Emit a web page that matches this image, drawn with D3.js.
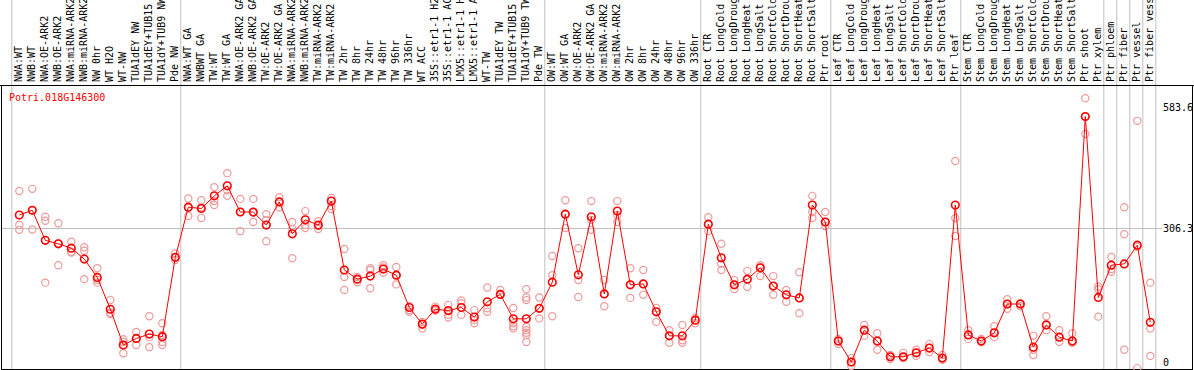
<!DOCTYPE html>
<html>
<head>
<meta charset="utf-8">
<script src="https://cdn.jsdelivr.net/npm/d3@7"></script>
<style>
  body { margin: 0; background: #fff; }
  svg { display: block; }
  text { font-family: "DejaVu Sans Mono", monospace; font-size: 10px; }
</style>
</head>
<body>
<div id="chart"></div>
<script>
const geneId = "Potri.018G146300";

const samples = [
  "NWA:WT", "NWB:WT", "NWA:OE-ARK2", "NWB:OE-ARK2", "NWA:miRNA-ARK2", "NWB:miRNA-ARK2",
  "NW 0hr", "WT H2O", "WT-NW", "TUA1dEY NW", "TUA1dEY+TUB15 NW", "TUA1dY+TUB9 NW", "Pde NW",
  "NWA:WT GA", "NWBWT GA", "TW:WT", "TW:WT GA", "NWA:OE-ARK2 GA", "NWB:OE-ARK2 GA",
  "TW:OE-ARK2", "TW:OE-ARK2 GA", "NWA:miRNA-ARK2", "NWB:miRNA-ARK2", "TW:miRNA-ARK2",
  "TW:miRNA-ARK2", "TW 2hr", "TW 8hr", "TW 24hr", "TW 48hr", "TW 96hr", "TW 336hr", "WT ACC",
  "35S::etr1-1 H2O", "35S::etr1-1 ACC", "LMX5::etr1-1 H2O", "LMX5::etr1-1 ACC", "WT-TW",
  "TUA1dEY TW", "TUA1dEY+TUB15 TW", "TUA1dY+TUB9 TW", "Pde TW",
  "OW:WT", "OW:WT GA", "OW:OE-ARK2", "OW:OE-ARK2 GA", "OW:miRNA-ARK2", "OW:miRNA-ARK2",
  "OW 2hr", "OW 8hr", "OW 24hr", "OW 48hr", "OW 96hr", "OW 336hr",
  "Root CTR", "Root LongCold", "Root LongDrought", "Root LongHeat", "Root LongSalt",
  "Root ShortCold", "Root ShortDrought", "Root ShortHeat", "Root ShortSalt", "Ptr root",
  "Leaf CTR", "Leaf LongCold", "Leaf LongDrought", "Leaf LongHeat", "Leaf LongSalt",
  "Leaf ShortCold", "Leaf ShortDrought", "Leaf ShortHeat", "Leaf ShortSalt", "Ptr leaf",
  "Stem CTR", "Stem LongCold", "Stem LongDrought", "Stem LongHeat", "Stem LongSalt",
  "Stem ShortCold", "Stem ShortDrought", "Stem ShortHeat", "Stem ShortSalt", "Ptr shoot",
  "Ptr xylem", "Ptr phloem", "Ptr fiber", "Ptr vessel", "Ptr fiber vessel"
];

// mean expression per sample
const means = [
  337, 348, 279, 271, 261, 236, 194, 121, 39, 54, 64, 58, 240,
  355, 352, 381, 404, 344, 344, 314, 367, 294, 326, 314, 369, 211, 190, 197, 213, 199, 125, 87,
  121, 118, 125, 103, 138, 155, 99, 99, 123,
  183, 339, 200, 333, 156, 346, 177, 179, 115, 60, 60, 96,
  316, 239, 177, 190, 216, 174, 154, 147, 360, 321,
  48, 0, 73, 48, 12, 12, 21, 32, 9, 360,
  62, 48, 67, 133, 133, 34, 85, 57, 48, 563,
  148, 222, 225, 268, 91
];

// individual replicates per sample
const replicates = [
  [392, 314, 303], [397, 304, 348], [333, 324, 182], [318, 222, 272], [276, 253, 251], [263, 255, 190],
  [215, 188, 182], [142, 113, 110], [52, 20, 46], [69, 39, 54], [105, 57, 34], [89, 62, 46, 39], [249, 241, 234],
  [375, 335, 354], [371, 330, 355], [401, 369, 360], [433, 394, 381], [374, 300, 344], [374, 342, 321],
  [339, 326, 277], [378, 355, 367], [321, 238, 305], [346, 314, 307], [323, 312, 305], [376, 351, 358],
  [259, 195, 165], [195, 183, 190], [215, 211, 169], [222, 205, 217], [218, 178, 199], [128, 119, 115], [92, 77, 85],
  [127, 118, 123], [131, 108, 102, 118], [141, 135, 108], [119, 96, 89], [171, 123, 115],
  [165, 154, 156], [124, 89, 82, 77], [167, 148, 142, 81, 73, 67, 62, 46], [148, 100, 123],
  [243, 199, 105], [371, 307, 339], [261, 188, 149], [369, 303, 326], [188, 128, 156], [369, 337, 321],
  [215, 177, 147], [211, 154, 179], [124, 92, 115], [73, 44, 60], [85, 50, 44], [101, 89, 96],
  [332, 300, 316], [271, 225, 211], [188, 167, 177], [209, 172, 190], [222, 197, 216], [197, 154, 174],
  [165, 138, 154], [206, 112, 147], [381, 344, 330], [344, 312, 321],
  [53, 41, 48], [9, -9, 0], [85, 60, 73], [66, 28, 48], [16, 7, 12], [21, 9, 12], [28, 14, 21],
  [41, 23, 32], [16, 5, 9], [461, 289, 330],
  [73, 53, 62], [53, 46, 48], [82, 57, 67], [144, 122, 133], [135, 128, 133], [60, 28, 16],
  [105, 73, 85], [73, 46, 57], [66, 44, 48], [605, 523, 563],
  [173, 167, 104], [241, 207, 213], [355, 293, 28], [553, -14, 264], [182, 77, 14]
];

// first sample of each group (vertical separators)
const groupStarts = [0, 13, 41, 53, 63, 73, 84, 85, 86, 87, 88];
const yTicks = [0, 306.3, 583.6];
const yGrid = [306.3];

const width = 1194, height = 370;
const plotTop = 85, plotBottom = 369, plotLeft = 1, plotRight = 1193;

const svg = d3.select("#chart").append("svg")
  .attr("width", width)
  .attr("height", height);

svg.append("rect").attr("width", width).attr("height", height).attr("fill", "#fff");

const x = d3.scaleBand()
  .domain(d3.range(samples.length + 1))
  .range([11.3, 11.3 + 13 * (samples.length + 1)])
  .padding(0);
const xc = i => x(i) + 8;

const y = d3.scaleLinear().domain([0, 583.6]).range([362, 107.5]);

// separators
svg.append("g").selectAll("line")
  .data(groupStarts)
  .join("line")
  .attr("x1", d => x(d) + 0.5).attr("x2", d => x(d) + 0.5)
  .attr("y1", 0).attr("y2", height)
  .attr("stroke", "#c0c0c0");

// horizontal grid
svg.append("g").selectAll("line")
  .data(yGrid)
  .join("line")
  .attr("x1", plotLeft).attr("x2", 1162)
  .attr("y1", d => Math.round(y(d)) + 0.5).attr("y2", d => Math.round(y(d)) + 0.5)
  .attr("stroke", "#c0c0c0");

// frame
svg.append("rect")
  .attr("x", plotLeft + 0.5).attr("y", plotTop + 0.5)
  .attr("width", plotRight - plotLeft - 1).attr("height", plotBottom - plotTop)
  .attr("fill", "none").attr("stroke", "#000");
svg.append("line").attr("x1", 0).attr("x2", width)
  .attr("y1", plotTop + 0.5).attr("y2", plotTop + 0.5).attr("stroke", "#000");

// sample labels
svg.append("g").selectAll("text")
  .data(samples)
  .join("text")
  .attr("transform", (d, i) => `translate(${xc(i) - 0.5},82) rotate(-90)`)
  .attr("dy", "0.35em")
  .attr("fill", "#000")
  .text(d => d);

// right axis
const yAxis = svg.append("g")
  .attr("transform", "translate(1163,0)")
  .call(d3.axisRight(y).tickValues(yTicks).tickSize(0).tickPadding(0).tickFormat(d => d));
yAxis.select(".domain").remove();
yAxis.selectAll("text")
  .attr("font-family", "DejaVu Sans Mono, monospace")
  .attr("font-size", 10)
  .attr("fill", "#000");

const plot = svg.append("g");

// replicates
const repPts = replicates.flatMap((r, i) => r.map(v => ({ i, v })));
plot.append("g").selectAll("circle")
  .data(repPts)
  .join("circle")
  .attr("cx", d => xc(d.i))
  .attr("cy", d => y(d.v))
  .attr("r", 3.6)
  .attr("fill", "none")
  .attr("stroke", "#ee9a9a")
  .attr("stroke-width", 1.2);

// mean line
plot.append("path")
  .datum(means)
  .attr("d", d3.line().x((d, i) => xc(i)).y(d => y(d)))
  .attr("fill", "none")
  .attr("stroke", "#ff0000")
  .attr("stroke-width", 1);

plot.append("g").selectAll("circle")
  .data(means)
  .join("circle")
  .attr("cx", (d, i) => xc(i))
  .attr("cy", d => y(d))
  .attr("r", 3.8)
  .attr("fill", "none")
  .attr("stroke", "#ff0000")
  .attr("stroke-width", 1.6);

// gene id
svg.append("text")
  .attr("x", 9).attr("y", 100.5)
  .attr("fill", "#ff0000")
  .text(geneId);
</script>
</body>
</html>
